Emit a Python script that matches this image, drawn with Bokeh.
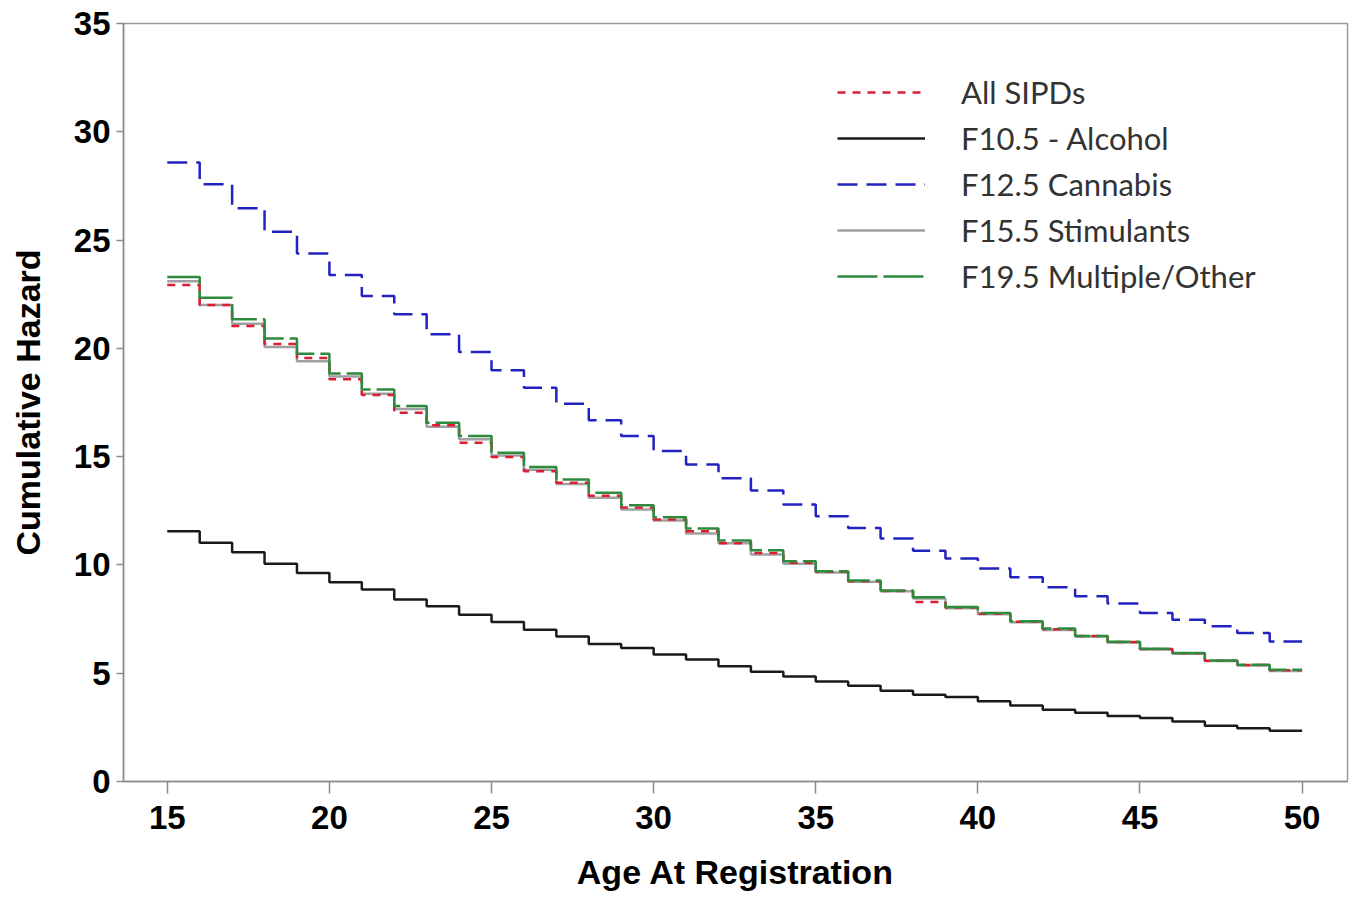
from bokeh.plotting import figure
from bokeh.models import Range1d, Legend, LegendItem
from bokeh.embed import file_html
from bokeh.resources import INLINE

ages = list(range(15, 51))

all_sipds = [22.92, 22.0, 21.03, 20.2, 19.55, 18.57, 17.85, 17.03, 16.45, 15.64,
             14.98, 14.33, 13.8, 13.2, 12.65, 12.1, 11.55, 11.0, 10.55, 10.1,
             9.68, 9.25, 8.8, 8.29, 8.03, 7.75, 7.38, 7.03, 6.72, 6.44,
             6.12, 5.92, 5.58, 5.38, 5.14]
alcohol = [11.56, 11.02, 10.59, 10.06, 9.63, 9.2, 8.86, 8.4, 8.09, 7.7,
           7.36, 7.01, 6.7, 6.35, 6.16, 5.86, 5.63, 5.32, 5.07, 4.85,
           4.62, 4.42, 4.19, 4.01, 3.9, 3.7, 3.51, 3.31, 3.18, 3.02,
           2.93, 2.77, 2.57, 2.46, 2.34]
cannabis = [28.58, 27.58, 26.47, 25.38, 24.38, 23.39, 22.42, 21.57, 20.65, 19.83,
            18.99, 18.18, 17.44, 16.68, 15.95, 15.26, 14.64, 14.0, 13.44, 12.79,
            12.25, 11.71, 11.22, 10.66, 10.3, 9.83, 9.43, 8.97, 8.55, 8.22,
            7.78, 7.47, 7.17, 6.86, 6.47]
stimulants = [23.1, 22.0, 21.14, 20.06, 19.4, 18.7, 17.9, 17.2, 16.38, 15.8,
              15.05, 14.4, 13.74, 13.1, 12.56, 12.05, 11.45, 11.0, 10.48, 10.05,
              9.65, 9.22, 8.78, 8.45, 8.0, 7.72, 7.35, 7.0, 6.7, 6.42,
              6.1, 5.9, 5.56, 5.36, 5.1]
multiple = [23.3, 22.34, 21.34, 20.46, 19.75, 18.84, 18.1, 17.34, 16.57, 15.95,
            15.18, 14.52, 13.94, 13.33, 12.76, 12.2, 11.68, 11.13, 10.68, 10.17,
            9.71, 9.28, 8.82, 8.51, 8.06, 7.78, 7.4, 7.06, 6.72, 6.45,
            6.13, 5.93, 5.59, 5.39, 5.16]

labels = ["All SIPDs", "F10.5 - Alcohol", "F12.5 Cannabis", "F15.5 Stimulants", "F19.5 Multiple/Other"]
x_ticks = [15, 20, 25, 30, 35, 40, 45, 50]
y_ticks = [0, 5, 10, 15, 20, 25, 30, 35]

p = figure(width=1353, height=893, output_backend="svg", toolbar_location=None,
           x_range=Range1d(13.65, 51.4), y_range=Range1d(0, 35),
           min_border_left=123, min_border_right=6, min_border_top=23, min_border_bottom=105)
p.grid.visible = False
p.outline_line_color = "#9a9a9a"
p.outline_line_width = 1.5
p.background_fill_color = "white"
p.border_fill_color = "white"

def ext(v):
    return v + [v[-1]]

r_stim = p.step(ages, ext(stimulants), mode="after", line_color="#a0a0a0", line_width=2.5)
r_all = p.step(ages, ext(all_sipds), mode="after", line_color="#dc1e32", line_width=2.5, line_dash="8 7")
r_mult = p.step(ages, ext(multiple), mode="after", line_color="#2e8b3e", line_width=2.5, line_dash="40 6")
r_can = p.step(ages, ext(cannabis), mode="after", line_color="#2222c0", line_width=2.5, line_dash="20 9")
r_alc = p.step(ages, ext(alcohol), mode="after", line_color="#1a1a1a", line_width=2.5)

for ax in (p.xaxis[0], p.yaxis[0]):
    ax.axis_line_color = "#8a8a8a"
    ax.axis_line_width = 1.5
    ax.major_tick_line_color = "#8a8a8a"
    ax.minor_tick_line_color = "#8a8a8a"
    ax.major_tick_line_width = 1.5
    ax.minor_tick_line_width = 1.5
    ax.major_label_text_font = "Liberation Sans"
    ax.major_label_text_font_style = "bold"
    ax.major_label_text_font_size = "33px"
    ax.major_label_text_color = "black"
    ax.axis_label_text_font = "Liberation Sans"
    ax.axis_label_text_font_style = "bold"
    ax.axis_label_text_font_size = "34px"
    ax.axis_label_text_color = "black"

p.xaxis.ticker = x_ticks
p.yaxis.ticker = y_ticks
p.xaxis[0].ticker.num_minor_ticks = 5
p.yaxis[0].ticker.num_minor_ticks = 10
p.xaxis.major_tick_out = 12
p.xaxis.major_tick_in = 0
p.xaxis.minor_tick_out = 7
p.xaxis.minor_tick_in = 0
p.yaxis.major_tick_out = 7
p.yaxis.major_tick_in = 0
p.yaxis.minor_tick_out = 4
p.yaxis.minor_tick_in = 0
p.xaxis.major_label_standoff = 12
p.yaxis.major_label_standoff = 6
p.xaxis.axis_label = "Age At Registration"
p.yaxis.axis_label = "Cumulative Hazard"
p.xaxis.axis_label_standoff = 21
p.yaxis.axis_label_standoff = 24

legend = Legend(items=[
    LegendItem(label=labels[0], renderers=[r_all]),
    LegendItem(label=labels[1], renderers=[r_alc]),
    LegendItem(label=labels[2], renderers=[r_can]),
    LegendItem(label=labels[3], renderers=[r_stim]),
    LegendItem(label=labels[4], renderers=[r_mult]),
], location=(714, 486))
legend.label_text_font = "Lato"
legend.label_text_font_size = "31px"
legend.label_text_color = "#333333"
legend.glyph_width = 88
legend.glyph_height = 30
legend.label_height = 30
legend.label_standoff = 36
legend.spacing = 8
legend.padding = 0
legend.margin = 0
legend.border_line_color = None
legend.background_fill_alpha = 0
p.add_layout(legend)

open("out.html", "w").write(file_html(p, INLINE))
